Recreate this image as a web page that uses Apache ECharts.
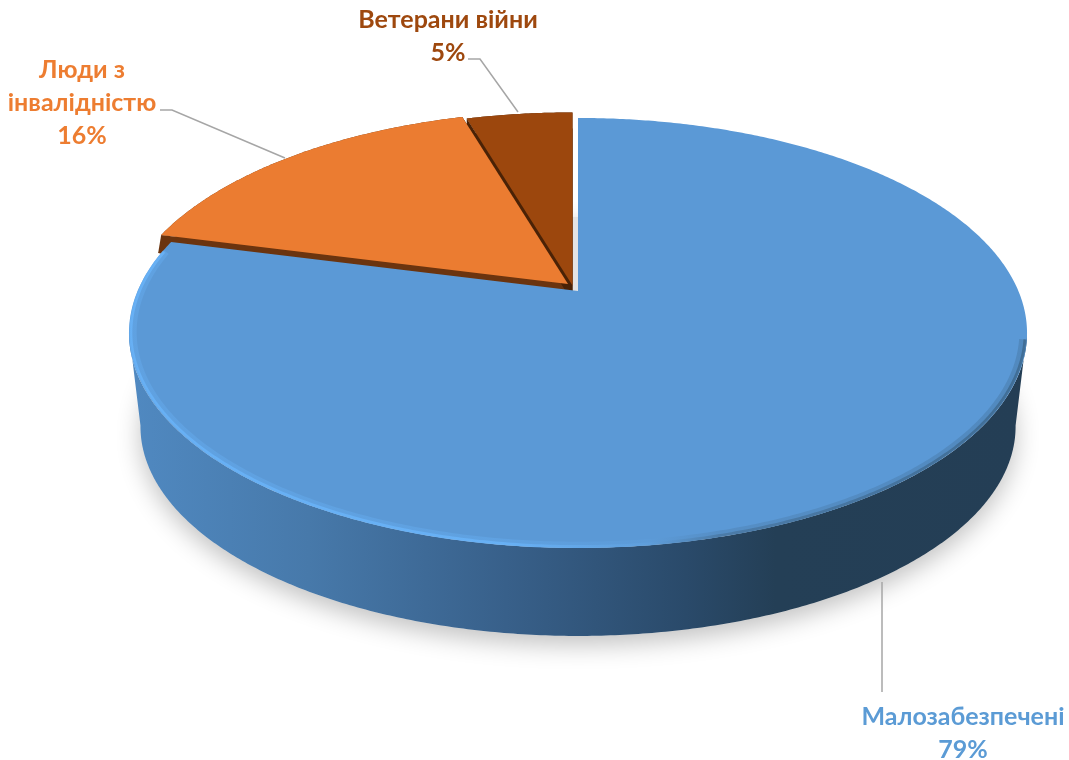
<!DOCTYPE html>
<html>
<head>
<meta charset="utf-8">
<style>
  html, body { margin: 0; padding: 0; background: #fff; }
  #chart { width: 1069px; height: 760px; }
</style>
<script src="https://cdn.jsdelivr.net/npm/echarts@6/dist/echarts.min.js"></script>
</head>
<body>
<div id="chart"></div>
<script>
// values
var categories = ["Малозабезпечені", "Люди з\nінвалідністю", "Ветерани війни"];
var shares = [79, 16.4, 4.6];
var topColors = ["#5b99d6", "#eb7c31", "#9c470d"];
var labelColors = ["#5b9bd5", "#ed7d31", "#9e480e"];
var sideColors = [null, "#6b340f", "#4a2206"];
var sliceShift = [[0, 0], [-10, -7], [-5.5, -5.5]];
var sideDrop = [[0, 0], [-3, 18], [0, 16]];
var labelPos = [[963, 733], [82, 103], [448, 36]];
var leaderLines = [
  [[882, 582], [882, 692]],
  [[160, 110], [172, 110], [285, 158]],
  [[468, 59], [480, 59], [518, 112]]
];

// tilted disc: circle seen in perspective, centre is not the middle of the ellipse
var cx = 578, cy = 291, k = 0.195, S = 206.8, R = 440.4;
// the lower rim shrinks towards a far vanishing point
var vanish = [579, 4000], lowerScale = 0.9745;

function project(a, r) {
  var u = Math.sin(a) * r, v = -Math.cos(a) * r, d = 1 - k * v;
  return [cx + R * u / d, cy + S * v / d];
}
function lower(p) {
  return [vanish[0] + lowerScale * (p[0] - vanish[0]), vanish[1] + lowerScale * (p[1] - vanish[1])];
}
function rad(deg) { return deg * Math.PI / 180; }
function arc(a0, a1, r) {
  var pts = [], n = Math.ceil(Math.abs(a1 - a0) / rad(0.5));
  for (var i = 0; i <= n; i++) pts.push(project(a0 + (a1 - a0) * i / n, r));
  return pts;
}
function sliceAngles(i) {
  var total = shares.reduce(function (s, x) { return s + x; }, 0);
  var before = shares.slice(0, i).reduce(function (s, x) { return s + x; }, 0);
  return [before / total * 2 * Math.PI, (before + shares[i]) / total * 2 * Math.PI];
}
function sector(i, dx, dy) {
  var ang = sliceAngles(i), sh = sliceShift[i];
  return [project(0, 0)].concat(arc(ang[0], ang[1], 1)).map(function (p) {
    return [p[0] + sh[0] + dx, p[1] + sh[1] + dy];
  });
}
function hGradient(stops) {
  return new echarts.graphic.LinearGradient(0, 0, 1, 0, stops);
}

// shadow, walls and the dark cut faces, all under the top surface
function renderDepth(params) {
  var i = params.dataIndex, kids = [];
  if (i === 0) {
    kids.push({
      type: "polygon",
      shape: { points: arc(0, 2 * Math.PI, 1).map(lower) },
      style: { fill: "#e4e4e4", shadowBlur: 24, shadowColor: "rgba(0,0,0,0.24)", shadowOffsetY: 9 }
    });
    var rim = arc(rad(101), rad(259), 1);
    kids.push({
      type: "polygon",
      shape: { points: rim.concat(rim.map(lower).reverse()) },
      style: {
        fill: hGradient([
          { offset: 0, color: "#5089c1" },
          { offset: 0.2, color: "#4779aa" },
          { offset: 0.42, color: "#38608a" },
          { offset: 0.62, color: "#2a4a6a" },
          { offset: 0.72, color: "#243f56" },
          { offset: 1, color: "#243e55" }
        ])
      }
    });
  } else {
    // sweep of the cut edge from the slice down to its dropped copy
    var top = sector(i, 0, 0), low = sector(i, sideDrop[i][0], sideDrop[i][1]);
    var n = top.length - 1;
    [top, low, [top[0], top[1], low[1], low[0]], [top[0], top[n], low[n], low[0]]].forEach(function (pts) {
      kids.push({ type: "polygon", shape: { points: pts }, style: { fill: sideColors[i] } });
    });
  }
  return { type: "group", children: kids };
}

function renderTop(params) {
  var i = params.dataIndex;
  return { type: "polygon", shape: { points: sector(i, 0, 0) }, style: { fill: topColors[i] } };
}

// soft bevel along the near edge of the big slice
function renderRim(params) {
  if (params.dataIndex !== 0) return null;
  var a0 = rad(103), a1 = sliceAngles(0)[1] - rad(3);
  var stops = [
    { offset: 0, color: "#6ab5fb" },
    { offset: 0.42, color: "#6ab5fb" },
    { offset: 0.58, color: "#5f9fdc" },
    { offset: 0.66, color: "#48759f" },
    { offset: 1, color: "#3a6488" }
  ];
  return {
    type: "group",
    children: [
      { type: "polyline", shape: { points: arc(a0, a1, 0.99) }, style: { fill: null, stroke: hGradient(stops), lineWidth: 6, opacity: 0.3 } },
      { type: "polyline", shape: { points: arc(a0, a1, 0.996) }, style: { fill: null, stroke: hGradient(stops), lineWidth: 3, opacity: 0.75 } }
    ]
  };
}

function renderLabel(params) {
  var i = params.dataIndex;
  return {
    type: "group",
    children: [
      {
        type: "polyline",
        shape: { points: leaderLines[i] },
        style: { fill: null, stroke: "#a6a6a6", lineWidth: 1.5 }
      },
      {
        type: "text",
        x: labelPos[i][0],
        y: labelPos[i][1],
        style: {
          text: categories[i] + "\n" + Math.round(shares[i]) + "%",
          fill: labelColors[i],
          font: "bold 25px Lato, 'Open Sans', sans-serif",
          lineHeight: 33,
          align: "center",
          verticalAlign: "middle"
        }
      }
    ]
  };
}

var chart = echarts.init(document.getElementById("chart"), null, { renderer: "canvas" });
var rows = shares.map(function (v, i) { return { name: categories[i], value: v }; });
function layer(fn) {
  return { type: "custom", coordinateSystem: "none", renderItem: fn, data: rows, silent: true, clip: false };
}
chart.setOption({
  animation: false,
  backgroundColor: "#fff",
  series: [layer(renderDepth), layer(renderTop), layer(renderRim), layer(renderLabel)]
});
</script>
</body>
</html>
